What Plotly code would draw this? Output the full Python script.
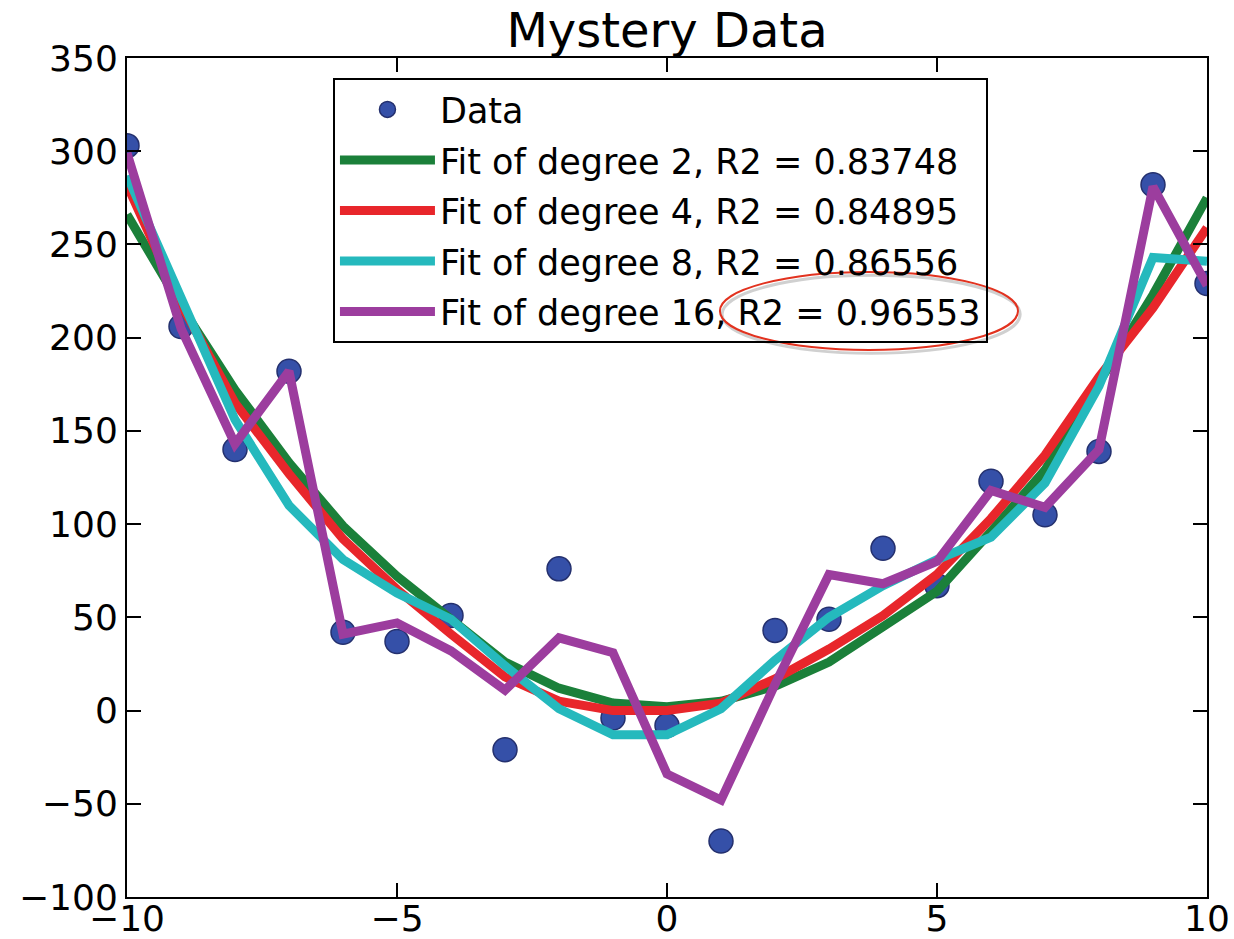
import plotly.graph_objects as go

# valores
x_vals = [-10, -9, -8, -7, -6, -5, -4, -3, -2, -1, 0, 1, 2, 3, 4, 5, 6, 7, 8, 9, 10]
data_y = [303, 206, 140, 182, 42, 37, 51, -21, 76, -4, -8, -70, 43, 49, 87, 67, 123, 105, 139, 282, 229]
fit2 = [266, 217, 172, 133, 99, 72, 49, 26, 12, 4, 2, 5, 13, 26, 45, 64, 96, 129, 176, 223, 275]
fit4 = [282, 218, 165, 127, 92, 65, 41, 18, 5, 0, 0, 4, 17, 33, 51, 73, 103, 137, 179, 216, 259]
fit8 = [287, 222, 156, 110, 81, 63, 49, 24, 1, -13, -13, 1, 27, 50, 67, 81, 93, 122, 174, 243, 241]
fit16 = [299, 205, 143, 182, 41, 47, 32, 11, 39, 31, -34, -48, 14, 73, 68, 80, 118, 109, 140, 281, 228]

fits = [
    ("Fit of degree 2, R2 = 0.83748", fit2, "#1b803a"),
    ("Fit of degree 4, R2 = 0.84895", fit4, "#e8262b"),
    ("Fit of degree 8, R2 = 0.86556", fit8, "#25b9bd"),
    ("Fit of degree 16, R2 = 0.96553", fit16, "#9c3d9e"),
]

fig = go.Figure()
fig.add_trace(go.Scatter(
    x=x_vals, y=data_y, mode="markers", name="Data", legendgroup="data",
    marker=dict(size=24, color="#3550a8", line=dict(color="#24306e", width=1.5)),
))
for i, (label, ys, color) in enumerate(fits):
    fig.add_trace(go.Scatter(
        x=x_vals, y=ys, mode="lines", name=label, legendgroup=f"fit{i}",
        line=dict(color=color, width=9),
    ))

axis_style = dict(
    showline=True, linecolor="black", linewidth=2, mirror="allticks",
    ticks="inside", ticklen=14, tickwidth=1.5, tickcolor="black",
    showgrid=False, zeroline=False, automargin=False,
    tickfont=dict(family="DejaVu Sans", size=36, color="black"),
)

fig.update_layout(
    width=1234, height=939,
    paper_bgcolor="white", plot_bgcolor="white",
    margin=dict(l=127, r=27, t=58, b=42),
    title=dict(text="Mystery Data", x=0.5, xref="paper", xanchor="center",
               y=0.968, yanchor="middle", automargin=False,
               font=dict(family="DejaVu Sans", size=48, color="black")),
    xaxis=dict(range=[-10, 10], dtick=5, ticklabelstandoff=-11, **axis_style),
    yaxis=dict(range=[-100, 350], dtick=50, **axis_style),
    legend=dict(
        x=0.1907, y=0.976, xanchor="left", yanchor="top",
        bgcolor="rgba(255,255,255,0)", bordercolor="black", borderwidth=2,
        font=dict(family="DejaVu Sans", size=35, color="black"),
        tracegroupgap=2, itemwidth=95,
    ),
    showlegend=True,
)

# destaque vermelho em volta do R2 de grau 16
fig.add_shape(type="circle", xref="paper", yref="paper",
              x0=0.551, x1=0.827, y0=0.648, y1=0.741,
              line=dict(color="rgba(120,120,120,0.35)", width=3))
fig.add_shape(type="circle", xref="paper", yref="paper",
              x0=0.549, x1=0.825, y0=0.652, y1=0.745,
              line=dict(color="#e2321f", width=2))

# tira a margem padrão do body para a figura ocupar a janela toda
fig.write_html("out.html", config={"displayModeBar": False},
               post_script="document.body.style.margin = '0';")
